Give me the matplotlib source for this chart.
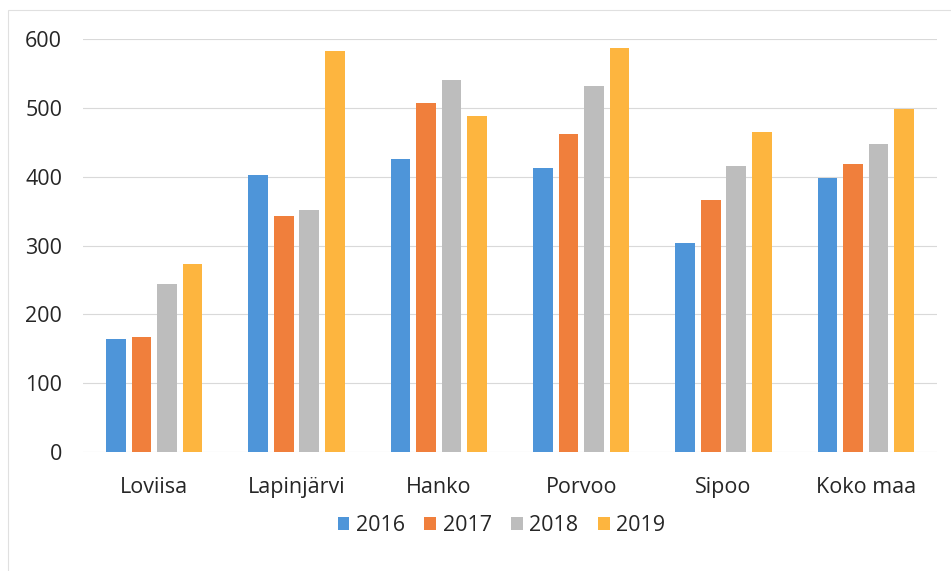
import matplotlib.pyplot as plt
import numpy as np
from matplotlib.patches import Rectangle

# data
towns = ['Loviisa', 'Lapinjärvi', 'Hanko', 'Porvoo', 'Sipoo', 'Koko maa']
years = ['2016', '2017', '2018', '2019']
v2016 = [164, 402, 426, 412, 304, 398]
v2017 = [167, 343, 507, 462, 366, 418]
v2018 = [244, 352, 540, 532, 416, 448]
v2019 = [273, 583, 488, 587, 465, 499]
colors = ['#4E95D9', '#F07F3C', '#BDBDBD', '#FDB53F']

plt.rcParams['font.family'] = ['Open Sans', 'DejaVu Sans']

fig = plt.figure(figsize=(9.51, 5.71), dpi=100)
ax = fig.add_axes([83 / 951, 1 - 452 / 571, 854 / 951, 413 / 571])

x = np.arange(len(towns))
pitch = 0.18
width = 0.138
for i, (vals, yr) in enumerate(zip([v2016, v2017, v2018, v2019], years)):
    ax.bar(x + (i - 1.5) * pitch, vals, width=width, color=colors[i], label=yr, zorder=3)

ax.set_xlim(-0.5, len(towns) - 0.5)
ax.set_ylim(0, 600)
ax.set_yticks(range(0, 601, 100))
ax.set_xticks(x)
ax.set_xticklabels(towns)
ax.tick_params(axis='both', length=0, labelsize=15.5, colors='#262626')
ax.tick_params(axis='x', pad=18)
ax.tick_params(axis='y', pad=15)
ax.grid(axis='y', color='#D9D9D9', linewidth=0.8, zorder=0)
for s in ax.spines.values():
    s.set_visible(False)

ax.legend(loc='upper center', bbox_to_anchor=(0.49, -0.105), ncol=4, frameon=False,
          fontsize=15.5, handlelength=0.55, handleheight=0.55, handletextpad=0.3,
          columnspacing=0.9, labelcolor='#262626')

# faint border of the chart area
fig.patches.append(Rectangle((8 / 951, -0.1), 1.2, 1 - 10 / 571 + 0.1, transform=fig.transFigure,
                             fill=False, edgecolor='#E0E0E0', linewidth=0.8))

fig.savefig('out.png', dpi=100)
